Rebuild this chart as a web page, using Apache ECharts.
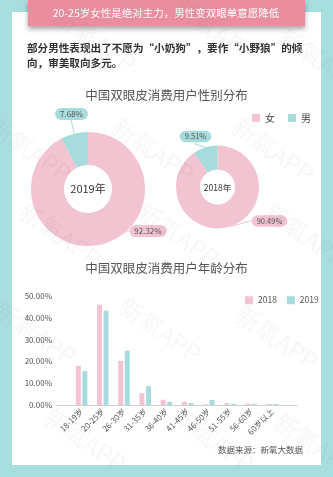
<!DOCTYPE html>
<html><head><meta charset="utf-8">
<script src="https://cdn.jsdelivr.net/npm/echarts@6/dist/echarts.min.js"></script>
<style>html,body{margin:0;padding:0;background:#A9DEDF;}#c{width:333px;height:477px;}</style>
</head><body><div id="c"></div>
<script>
const bannerText = '20-25岁女性是绝对主力，男性变双眼单意愿降低';
const introText = '部分男性表现出了不愿为“小奶狗”，要作“小野狼”的倾\n向，审美取向多元。';
const pieTitle = '中国双眼皮消费用户性别分布';
const barTitle = '中国双眼皮消费用户年龄分布';
const genderNames = ['女', '男'];
const gender2019 = [92.32, 7.68];
const gender2018 = [90.49, 9.51];
const ageCategories = ['18-19岁', '20-25岁', '26-30岁', '31-35岁', '36-40岁', '41-45岁', '46-50岁', '51-55岁', '56-60岁', '60岁以上'];
const age2018 = [18.0, 46.0, 20.2, 5.4, 2.4, 1.5, 0.3, 0.8, 0.6, 0.5];
const age2019 = [15.6, 43.3, 24.9, 8.6, 1.5, 0.9, 2.3, 0.5, 0.5, 0.4];
const yMin = 0, yMax = 50, yStep = 10;
const sourceText = '数据来源：新氧大数据';

const PINK = '#F2C3D1', TEAL = '#A7DBDC';
const FONT = '"Noto Sans CJK SC", "Noto Sans", sans-serif';
const chart = echarts.init(document.getElementById('c'), null, {renderer: 'canvas'});

const pie2019Center = [88, 189], pie2018Center = [217.5, 187];
const labels2019 = [[148, 231], [71.5, 114]];
const labels2018 = [[269.5, 221], [195.5, 136.5]];

function pieSeries(values, center, radius, labelPos, fs) {
  return {
    type: 'pie', center: center, radius: radius, startAngle: 90, clockwise: true,
    avoidLabelOverlap: false, silent: true,
    data: values.map((v, i) => ({name: genderNames[i], value: v,
      itemStyle: {color: i === 0 ? PINK : TEAL},
      label: {backgroundColor: i === 0 ? PINK : TEAL}})),
    label: {show: true, position: 'outside', formatter: p => p.value.toFixed(2) + '%',
      fontSize: fs, color: '#555', fontFamily: FONT, padding: [2, 5], borderRadius: 6},
    labelLine: {show: true, length: 6, length2: 2, lineStyle: {width: 1}},
    labelLayout: function (p) {
      const pos = labelPos[p.dataIndex];
      return {x: pos[0], y: pos[1], align: 'center', verticalAlign: 'middle'};
    }
  };
}

const wm = [];
const wmPos = [[95, 40], [215, 30], [320, 60], [30, 150], [153, 150], [273, 150], [60, 235], [178, 235], [305, 235], [35, 333], [160, 330], [277, 338], [85, 440], [213, 440], [315, 445]];
wmPos.forEach(p => wm.push({type: 'text', x: p[0], y: p[1], rotation: -0.6, z: 100, silent: true,
  style: {text: '新氧APP', fontSize: 24, fill: 'rgba(0,0,0,0.035)', fontFamily: FONT, align: 'center', verticalAlign: 'middle'}}));

chart.setOption({
  animation: false,
  backgroundColor: '#A9DEDF',
  title: [
    {text: pieTitle, left: 'center', top: 84, textStyle: {fontSize: 12.5, fontWeight: 'normal', color: '#555', fontFamily: FONT}},
    {text: barTitle, left: 'center', top: 257, textStyle: {fontSize: 12.5, fontWeight: 'normal', color: '#555', fontFamily: FONT}}
  ],
  legend: [
    {data: genderNames, left: 247, top: 108, itemWidth: 8, itemHeight: 8, itemGap: 13, icon: 'rect',
      textStyle: {fontSize: 10, color: '#444', fontFamily: FONT}, selectedMode: false},
    {data: ['2018', '2019'], left: 240, top: 291, itemWidth: 8, itemHeight: 8, itemGap: 10, icon: 'rect',
      textStyle: {fontSize: 8.5, color: '#555', fontFamily: FONT}, selectedMode: false}
  ],
  graphic: [
    {type: 'rect', shape: {x: 12, y: 12, width: 309, height: 453}, style: {fill: '#fff'}, z: -10, silent: true},
    {type: 'rect', shape: {x: 28, y: 0, width: 277, height: 26}, style: {fill: '#EA8E9F', shadowBlur: 5, shadowOffsetY: 3, shadowColor: 'rgba(0,0,0,0.35)'}, z: 5, silent: true},
    {type: 'text', x: 166, y: 13, z: 6, silent: true, style: {text: bannerText, fill: '#fff', fontSize: 10.5, fontFamily: FONT, align: 'center', verticalAlign: 'middle'}},
    {type: 'text', x: 27, y: 41, z: 6, silent: true, style: {text: introText, fill: '#333', fontSize: 10.6, fontWeight: 'bold', lineHeight: 14.5, fontFamily: FONT, align: 'left', verticalAlign: 'top'}},
    {type: 'text', x: pie2019Center[0], y: pie2019Center[1], z: 6, silent: true, style: {text: '2019年', fill: '#333', fontSize: 11, fontFamily: FONT, align: 'center', verticalAlign: 'middle'}},
    {type: 'text', x: pie2018Center[0], y: pie2018Center[1] + 1, z: 6, silent: true, style: {text: '2018年', fill: '#333', fontSize: 8.5, fontFamily: FONT, align: 'center', verticalAlign: 'middle'}},
    {type: 'text', x: 303, y: 450, z: 6, silent: true, style: {text: sourceText, fill: '#555', fontSize: 8.5, fontFamily: FONT, align: 'right', verticalAlign: 'middle'}}
  ].concat(wm),
  grid: [
    {left: 71, right: 50, top: 296, bottom: 72},
    {left: 57, right: 36, top: 296, bottom: 72}
  ],
  xAxis: [
    {type: 'category', gridIndex: 0, data: ageCategories, boundaryGap: true,
      axisLine: {show: false}, axisTick: {show: false},
      axisLabel: {rotate: 45, fontSize: 8, color: '#555', margin: 5, interval: 0, fontFamily: FONT}},
    {type: 'value', gridIndex: 1, min: 0, max: 1, axisLine: {show: true, lineStyle: {color: '#d0d0d0'}},
      axisTick: {show: false}, axisLabel: {show: false}, splitLine: {show: false}}
  ],
  yAxis: [
    {type: 'value', gridIndex: 0, min: yMin, max: yMax, interval: yStep, show: false, splitLine: {show: false}},
    {type: 'value', gridIndex: 1, min: yMin, max: yMax, interval: yStep,
      axisLine: {show: false}, axisTick: {show: false}, splitLine: {show: false},
      axisLabel: {fontSize: 8, color: '#555', margin: 5, fontFamily: FONT, formatter: v => v.toFixed(2) + '%'}}
  ],
  series: [
    pieSeries(gender2019, pie2019Center, [24, 57], labels2019, 8),
    pieSeries(gender2018, pie2018Center, [17.5, 41.5], labels2018, 7.5),
    {type: 'bar', name: '2018', xAxisIndex: 0, yAxisIndex: 0, data: age2018, barWidth: 5, barGap: '30%', itemStyle: {color: PINK}, silent: true},
    {type: 'bar', name: '2019', xAxisIndex: 0, yAxisIndex: 0, data: age2019, barWidth: 5, barGap: '30%', itemStyle: {color: TEAL}, silent: true}
  ]
});
</script></body></html>
